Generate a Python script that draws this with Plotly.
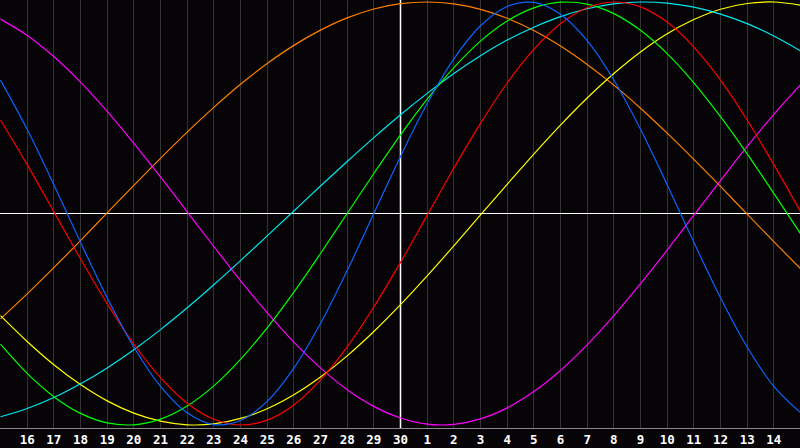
import plotly.graph_objects as go

# day positions across the strip (15th of month 1 .. 15th of month 2)
days = list(range(31))
day_labels = ["16", "17", "18", "19", "20", "21", "22", "23", "24", "25", "26", "27", "28", "29", "30",
              "1", "2", "3", "4", "5", "6", "7", "8", "9", "10", "11", "12", "13", "14"]
label_pos = list(range(1, 30))

# curve values, one per day, range -1..1
blue = [0.631, 0.398, 0.136, -0.136, -0.398, -0.631, -0.817, -0.942, -0.998, -0.979,
        -0.888, -0.731, -0.520, -0.270, 0.0, 0.270, 0.520, 0.731, 0.888, 0.979,
        0.998, 0.942, 0.817, 0.631, 0.398, 0.136, -0.136, -0.398, -0.631, -0.817, -0.942]
red = [0.442, 0.231, 0.009, -0.214, -0.426, -0.617, -0.776, -0.897, -0.973, -1.0,
       -0.977, -0.905, -0.787, -0.631, -0.442, -0.231, -0.009, 0.214, 0.426, 0.617,
       0.776, 0.897, 0.973, 1.0, 0.977, 0.905, 0.787, 0.631, 0.442, 0.231, 0.009]
green = [-0.618, -0.756, -0.866, -0.945, -0.990, -0.999, -0.972, -0.910, -0.815, -0.690,
         -0.541, -0.372, -0.189, 0.0, 0.189, 0.372, 0.541, 0.690, 0.815, 0.910,
         0.972, 0.999, 0.990, 0.945, 0.866, 0.756, 0.618, 0.458, 0.282, 0.095, -0.095]
cyan = [-0.961, -0.922, -0.870, -0.805, -0.730, -0.644, -0.549, -0.446, -0.337, -0.223,
        -0.106, 0.012, 0.130, 0.246, 0.359, 0.467, 0.568, 0.662, 0.746, 0.820,
        0.881, 0.931, 0.968, 0.991, 1.0, 0.995, 0.976, 0.943, 0.898, 0.839, 0.769]
yellow = [-0.483, -0.605, -0.715, -0.809, -0.886, -0.944, -0.982, -0.999, -0.995, -0.969,
          -0.923, -0.857, -0.773, -0.673, -0.558, -0.431, -0.295, -0.153, -0.007, 0.138,
          0.281, 0.418, 0.546, 0.662, 0.764, 0.850, 0.917, 0.966, 0.993, 1.0, 0.985]
magenta = [0.919, 0.842, 0.742, 0.621, 0.483, 0.332, 0.173, 0.008, -0.156, -0.317,
           -0.469, -0.608, -0.730, -0.833, -0.912, -0.967, -0.996, -0.997, -0.971, -0.919,
           -0.842, -0.742, -0.621, -0.483, -0.332, -0.173, -0.008, 0.156, 0.317, 0.469, 0.608]
orange = [-0.498, -0.380, -0.256, -0.128, 0.003, 0.133, 0.261, 0.385, 0.502, 0.611,
          0.709, 0.795, 0.867, 0.925, 0.967, 0.992, 1.0, 0.991, 0.965, 0.923,
          0.865, 0.792, 0.705, 0.607, 0.498, 0.380, 0.256, 0.128, -0.003, -0.133, -0.261]

curves = [
    (orange, "#ff8000"),
    (magenta, "#ff00ff"),
    (yellow, "#ffff00"),
    (cyan, "#00e8f0"),
    (green, "#00ff00"),
    (red, "#ff0000"),
    (blue, "#0a64ff"),
]

fig = go.Figure()
for vals, col in curves:
    fig.add_trace(go.Scatter(x=days, y=vals, mode="lines", line=dict(color=col, width=1.2, shape="spline"),
                             hoverinfo="skip", showlegend=False))

# today marker
fig.add_shape(type="line", x0=15, x1=15, y0=-1.0142, y1=1.0095, xref="x", yref="y",
              line=dict(color="#ffffff", width=1.5), layer="between")

fig.update_layout(
    width=800, height=448,
    margin=dict(l=0, r=0, t=0, b=20),
    paper_bgcolor="#060407",
    plot_bgcolor="#060407",
    showlegend=False,
    xaxis=dict(range=[-0.01875, 29.98125], tickvals=label_pos, ticktext=day_labels, showgrid=True,
               gridcolor="#333333", gridwidth=1, zeroline=False, showline=True, mirror=True,
               linecolor="#8a8a8a", linewidth=1, ticks="",
               tickfont=dict(family="DejaVu Sans Mono", size=12.5, color="#ffffff", weight="bold")),
    yaxis=dict(range=[-1.0142, 1.0095], showgrid=False, zeroline=True, zerolinecolor="#ffffff",
               zerolinewidth=1, showticklabels=False,
               showline=True, linecolor="#8a8a8a", linewidth=1, ticks=""),
)

fig.write_html("out.html", config={"displayModeBar": False},
               post_script="document.body.style.margin='0';document.body.style.overflow='hidden';")
